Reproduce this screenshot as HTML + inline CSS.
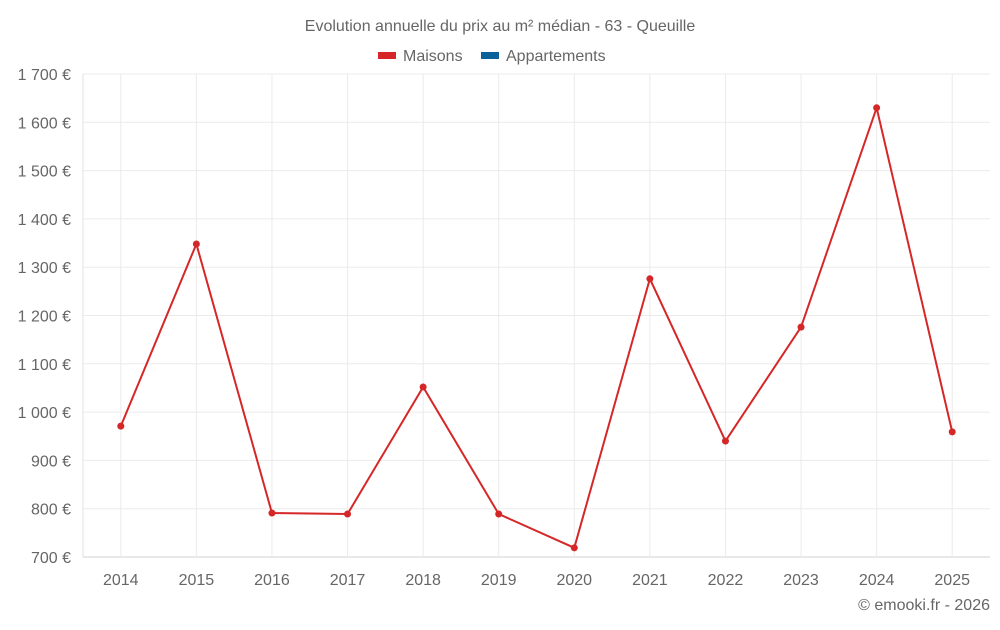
<!DOCTYPE html>
<html><head><meta charset="utf-8"><style>
body{margin:0;background:#fff;font-family:"Liberation Sans",sans-serif;}
svg text{font-family:"Liberation Sans",sans-serif;fill:#666;}
</style></head><body>
<svg id="chart" width="1000" height="625">
<text x="500" y="31" text-anchor="middle" font-size="16">Evolution annuelle du prix au m² médian - 63 - Queuille</text>
<g>
<rect x="378" y="52" width="18" height="7" fill="#d62728"/>
<text x="403" y="61" font-size="16">Maisons</text>
<rect x="481" y="52" width="18" height="7" fill="#0a6299"/>
<text x="506" y="61" font-size="16">Appartements</text>
</g>
<g id="grid"></g><g id="axes"></g><g id="series"></g>
<text x="990" y="610" text-anchor="end" font-size="16">© emooki.fr - 2026</text>
</svg>
<script>
const categories=["2014","2015","2016","2017","2018","2019","2020","2021","2022","2023","2024","2025"];
const maisons=[971,1348,791,789,1052,789,719,1276,940,1176,1630,959];
const yTicks=[700,800,900,1000,1100,1200,1300,1400,1500,1600,1700];
const L=83,R=990,T=74,B=557,yMin=700,yMax=1700;
const NS="http://www.w3.org/2000/svg";
const bw=(R-L)/categories.length;
const x=i=>L+bw*(i+0.5);
const y=v=>B-(v-yMin)/(yMax-yMin)*(B-T);
function mk(t,a,p){const e=document.createElementNS(NS,t);for(const k in a)e.setAttribute(k,a[k]);p.appendChild(e);return e;}
const g=document.getElementById('grid'),ax=document.getElementById('axes'),s=document.getElementById('series');
const fmt=v=>String(v).replace(/\B(?=(\d{3})+(?!\d))/g," ")+" €";
yTicks.forEach(v=>{
 const l=mk('line',{x1:L,x2:R,y1:y(v),y2:y(v),stroke:v===yMin?'#d0d0d0':'#ebebeb'},g);
 
 
 const t=mk('text',{x:71,y:y(v)+6,'text-anchor':'end','font-size':16},ax);t.textContent=fmt(v);
 
 
});
const la=mk('line',{x1:L,x2:L,y1:T,y2:B,stroke:'#e0e0e0'},g);


categories.forEach((c,i)=>{
 const l=mk('line',{x1:x(i),x2:x(i),y1:T,y2:B,stroke:'#ebebeb'},g);
 
 
 const t=mk('text',{x:x(i),y:585,'text-anchor':'middle','font-size':16},ax);t.textContent=c;
 
 
});
const p=mk('polyline',{points:maisons.map((v,i)=>x(i)+','+y(v)).join(' '),fill:'none',stroke:'#d62728','stroke-width':2},s);


maisons.forEach((v,i)=>{
 const c=mk('circle',{cx:x(i),cy:y(v),r:3.5,fill:'#d62728'},s);
 
 
});
</script>
</body></html>
